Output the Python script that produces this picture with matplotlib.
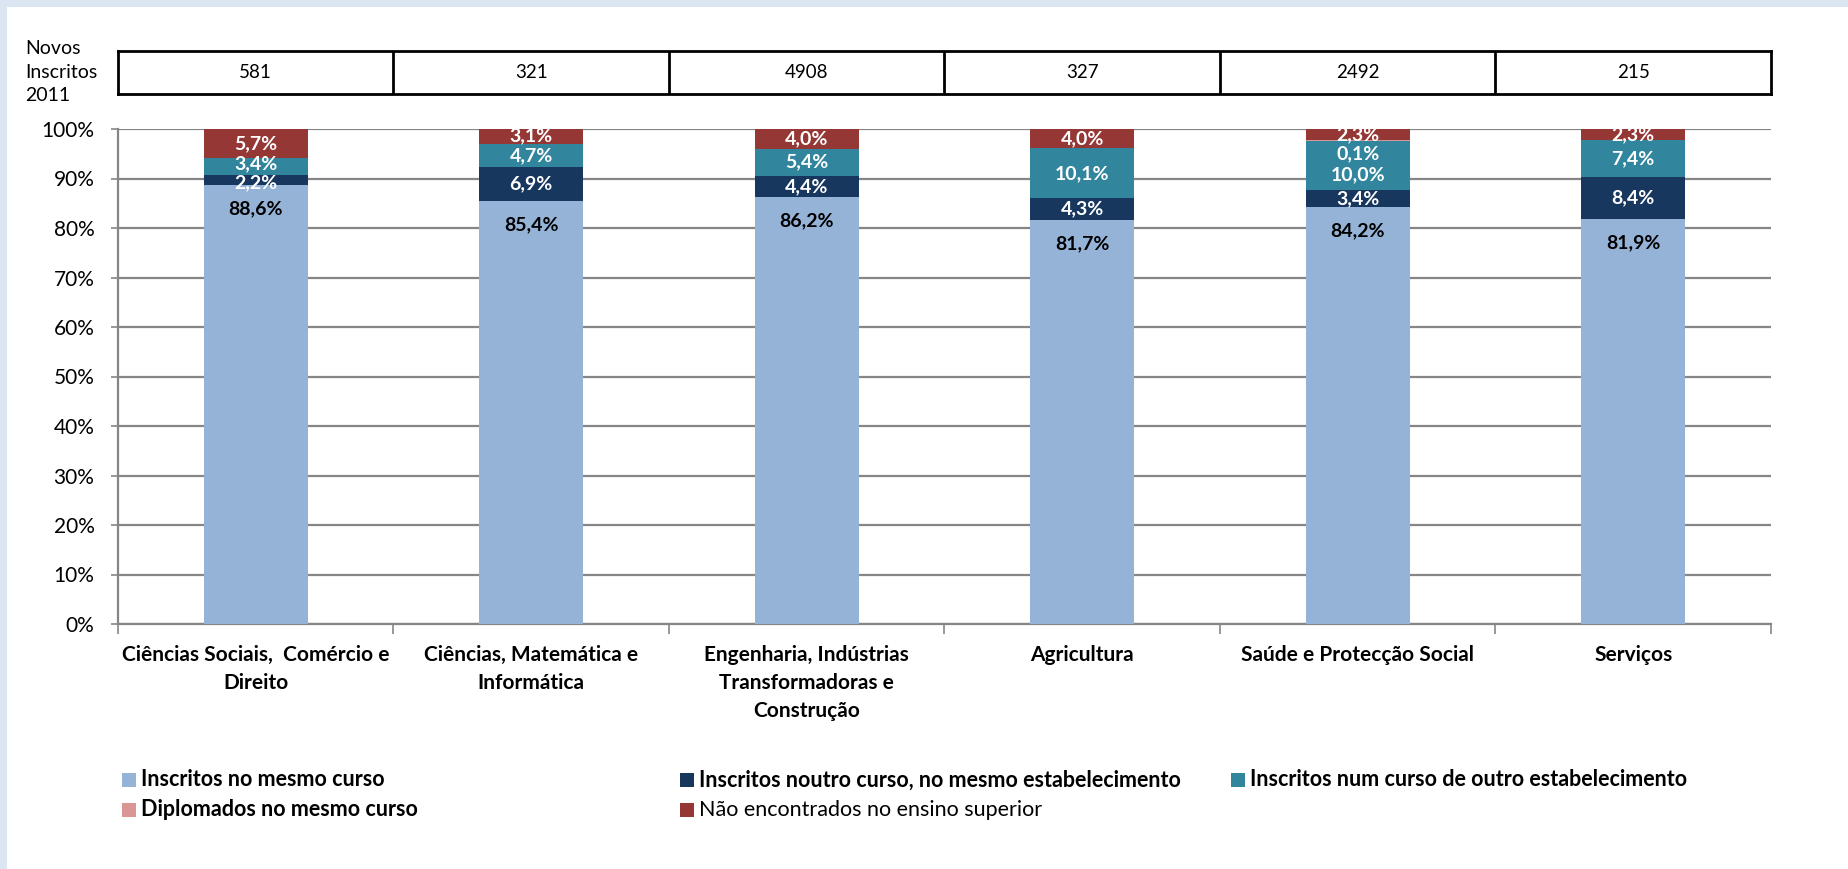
import numpy as np
import matplotlib
matplotlib.use('Agg')
import matplotlib.pyplot as plt
from matplotlib.patches import Rectangle

plt.rcParams['font.family'] = ['Lato', 'DejaVu Sans']

categories = ['Ciências Sociais,  Comércio e\nDireito',
              'Ciências, Matemática e\nInformática',
              'Engenharia, Indústrias\nTransformadoras e\nConstrução',
              'Agricultura',
              'Saúde e Protecção Social',
              'Serviços']
novos_inscritos = ['581', '321', '4908', '327', '2492', '215']

mesmo_curso = [88.6, 85.4, 86.2, 81.7, 84.2, 81.9]
noutro_curso = [2.2, 6.9, 4.4, 4.3, 3.4, 8.4]
outro_estab = [3.4, 4.7, 5.4, 10.1, 10.0, 7.4]
diplomados = [0.0, 0.0, 0.0, 0.0, 0.1, 0.0]
nao_encontrados = [5.7, 3.1, 4.0, 4.0, 2.3, 2.3]

series = [
    ('Inscritos no mesmo curso', mesmo_curso, '#95B3D7', 'black', 'bold'),
    ('Inscritos noutro curso, no mesmo estabelecimento', noutro_curso, '#17375E', 'white', 'bold'),
    ('Inscritos num curso de outro estabelecimento', outro_estab, '#31859C', 'white', 'bold'),
    ('Diplomados no mesmo curso', diplomados, '#D99694', 'white', 'bold'),
    ('Não encontrados no ensino superior', nao_encontrados, '#953735', 'white', 'normal'),
]

W, H = 1849, 869
fig = plt.figure(figsize=(W / 100, H / 100), dpi=100)
fig.patch.set_facecolor('#DCE6F2')
# white panel inside the light blue frame
fig.add_artist(Rectangle((7 / W, 0), 1 - 7 / W, 1 - 7 / H, transform=fig.transFigure,
                         facecolor='white', edgecolor='none', zorder=0))


def fx(px):
    return px / W


def fy(py):
    return 1 - py / H


ax_left, ax_right, ax_top, ax_bottom = 118, 1771, 129, 624
ax = fig.add_axes([fx(ax_left), fy(ax_bottom), fx(ax_right - ax_left), (ax_bottom - ax_top) / H])
ax.set_facecolor('none')

x = np.arange(len(categories))
bw = 0.378
bottom = np.zeros(len(categories))
label_pos = []
for name, vals, col, tcol, wt in series:
    vals = np.array(vals)
    ax.bar(x, vals, bw, bottom=bottom, color=col, zorder=3)
    for i, v in enumerate(vals):
        if v <= 0:
            continue
        if name == 'Inscritos no mesmo curso':
            y = bottom[i] + v - 4.8
        else:
            y = bottom[i] + v / 2
        label_pos.append([i, y, v, tcol, name])
    bottom = bottom + vals

# tiny segment labels pushed below, the one under it moved down too
for lp in label_pos:
    if lp[2] < 0.5:
        i = lp[0]
        lp[1] = lp[1] - 2.7
        for other in label_pos:
            if other[0] == i and other[4] == 'Inscritos num curso de outro estabelecimento':
                other[1] -= 1.9

# spread labels of thin neighbouring segments a bit
min_gap = 4.0
for i in range(len(categories)):
    labs = sorted([lp for lp in label_pos if lp[0] == i and lp[4] != 'Inscritos no mesmo curso'],
                  key=lambda l: l[1])
    for a, b in zip(labs[:-1], labs[1:]):
        gap = b[1] - a[1]
        if gap < min_gap:
            a[1] -= (min_gap - gap) / 2
            b[1] += (min_gap - gap) / 2

for i, y, v, tcol, name in label_pos:
    ax.text(i, y, f'{v:.1f}'.replace('.', ',') + '%', ha='center', va='center',
            color=tcol, fontsize=14, fontweight='bold', zorder=5)

ax.set_xlim(-0.5, len(categories) - 0.5)
ax.set_ylim(0, 100)
ax.set_yticks(np.arange(0, 101, 10))
ax.set_yticklabels([f'{t}%' for t in range(0, 101, 10)], fontsize=15)
ax.yaxis.grid(True, color='#868686', linewidth=1.6, zorder=1)
ax.set_axisbelow(True)
for s in ['top', 'right']:
    ax.spines[s].set_visible(False)
for s in ['left', 'bottom']:
    ax.spines[s].set_color('#868686')
    ax.spines[s].set_linewidth(1.6)
ax.tick_params(axis='y', length=5, width=1.2, color='#868686', pad=12)

ax.set_xticks(np.arange(-0.5, len(categories) + 0.5, 1))
ax.set_xticklabels([])
ax.tick_params(axis='x', which='major', length=7, width=1.2, color='#868686')
ax.set_xticks(x, minor=True)
ax.set_xticklabels(categories, minor=True, fontsize=15, fontweight='bold', linespacing=1.5)
ax.tick_params(axis='x', which='minor', length=0, pad=15)

# table with new enrolments
tax = fig.add_axes([fx(ax_left), fy(94), fx(ax_right - ax_left), 43 / H])
tax.set_xlim(-0.5, len(categories) - 0.5)
tax.set_ylim(0, 1)
tax.set_xticks([])
tax.set_yticks([])
for s in tax.spines.values():
    s.set_linewidth(2)
    s.set_color('black')
for b in np.arange(0.5, len(categories) - 0.5, 1):
    tax.axvline(b, color='black', linewidth=2)
for i, n in enumerate(novos_inscritos):
    tax.text(i, 0.5, n, ha='center', va='center', fontsize=13.5)

fig.text(fx(25), fy(72), 'Novos\nInscritos\n2011', ha='left', va='center', fontsize=14, linespacing=1.45)

# legend drawn entry by entry, Excel style
legend_cols = [122, 680, 1231]
legend_rows = [780, 810]
order = [(0, 0), (0, 1), (0, 2), (1, 0), (1, 1)]
for (r, c), (name, vals, col, tcol, wt) in zip(order, series):
    px, py = legend_cols[c], legend_rows[r]
    fig.add_artist(Rectangle((fx(px), fy(py + 7)), 14 / W, 14 / H, transform=fig.transFigure,
                             facecolor=col, edgecolor='none'))
    fig.text(fx(px + 19), fy(py), name, ha='left', va='center', fontsize=15.5, fontweight=wt)

fig.savefig('out.png', dpi=100, facecolor=fig.get_facecolor())
